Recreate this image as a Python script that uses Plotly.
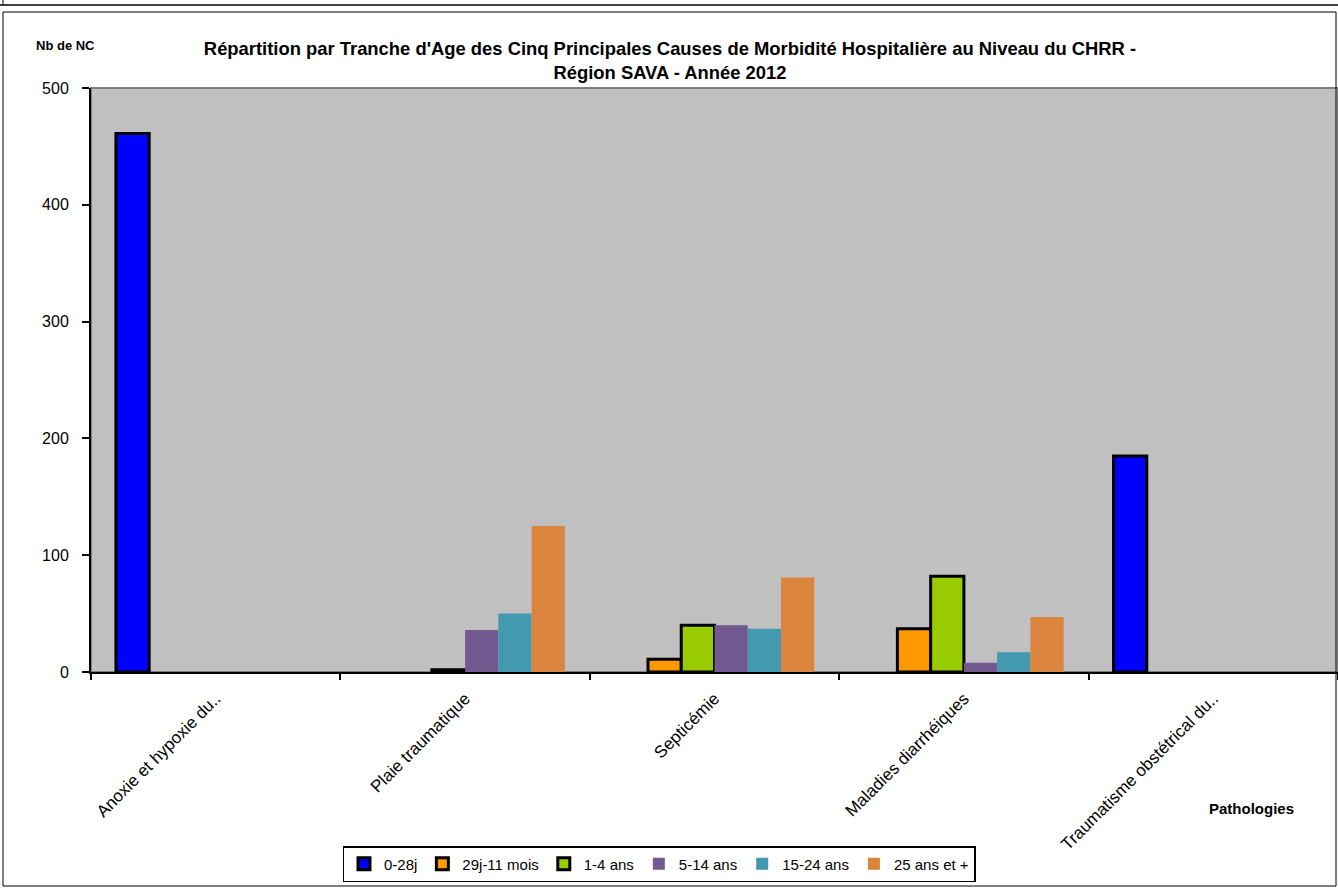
import plotly.graph_objects as go

categories = ["Anoxie et hypoxie du..", "Plaie traumatique", "Septicémie",
              "Maladies diarrhéiques", "Traumatisme obstétrical du.."]
series_names = ["0-28j", "29j-11 mois", "1-4 ans", "5-14 ans", "15-24 ans", "25 ans et +"]
v_0_28j = [461, None, None, None, 185]
v_29j_11m = [None, None, 11, 37, None]
v_1_4 = [None, 2, 40, 82, None]
v_5_14 = [None, 36, 40, 8, None]
v_15_24 = [None, 50, 37, 17, None]
v_25p = [None, 125, 81, 47, None]
y_ticks = [0, 100, 200, 300, 400, 500]

series_values = [v_0_28j, v_29j_11m, v_1_4, v_5_14, v_15_24, v_25p]
colors = ["#0000FF", "#FF9900", "#99CC00", "#72598F", "#4299B0", "#DB843D"]
borders = [3, 3, 3, 0, 0, 0]

FONT = "Arial, Liberation Sans, sans-serif"
W, H = 1338, 888
L, R, T, B = 91, 0, 88, 216
pw, ph = W - L - R, H - T - B

def px(x):
    return (x - L) / pw

def py(y):
    return (H - B - y) / ph

fig = go.Figure()
for name, vals, c, bw in zip(series_names, series_values, colors, borders):
    fig.add_trace(go.Bar(
        name=name, x=categories, y=vals,
        marker=dict(color=c, line=dict(color="black", width=bw)),
    ))

shapes = [
    # plot area frame (top / right)
    dict(type="rect", xref="paper", yref="paper", x0=0, x1=1, y0=0, y1=1,
         line=dict(color="#808080", width=2), layer="below"),
    # outer chart frame
    dict(type="rect", xref="paper", yref="paper", x0=px(3), x1=px(1336), y0=py(886), y1=py(12),
         line=dict(color="black", width=1)),
    # top frame remains
    dict(type="line", xref="paper", yref="paper", x0=px(0), x1=px(1338), y0=py(5), y1=py(5),
         line=dict(color="black", width=1.5)),
    dict(type="line", xref="paper", yref="paper", x0=px(3), x1=px(3), y0=py(0), y1=py(5),
         line=dict(color="black", width=1)),
]

fig.update_layout(
    width=W, height=H,
    margin=dict(l=L, r=R, t=T, b=B, autoexpand=False),
    paper_bgcolor="white", plot_bgcolor="#C0C0C0",
    barmode="group", bargap=0.2, bargroupgap=0,
    font=dict(family=FONT, size=15, color="black"),
    title=dict(
        text="<b>Répartition par Tranche d'Age des Cinq Principales Causes de Morbidité Hospitalière au Niveau du CHRR -<br>Région SAVA - Année 2012</b>",
        xref="container", yref="container",
        x=670 / W, xanchor="center", y=1 - 55 / H, yanchor="middle",
        font=dict(size=18.4, family=FONT),
    ),
    xaxis=dict(
        type="category", tickangle=-45, tickson="boundaries",
        ticks="outside", ticklen=6, tickcolor="black", tickwidth=1.5,
        showline=True, linecolor="black", linewidth=2,
        showgrid=False, tickfont=dict(size=17, family=FONT),
        ticklabelstandoff=8,
    ),
    yaxis=dict(
        range=[0, 500], tickvals=y_ticks, ticks="outside", ticklen=7,
        tickcolor="black", tickwidth=1.5, showline=True, linecolor="black", linewidth=2,
        showgrid=False, zeroline=False, tickfont=dict(size=16, family=FONT),
        ticklabelstandoff=10,
    ),
    legend=dict(
        orientation="h", x=px(659), xanchor="center", y=py(846), yanchor="top",
        bordercolor="black", borderwidth=1.5, bgcolor="white",
        font=dict(size=15, family=FONT), itemwidth=30, tracegroupgap=0,
    ),
    shapes=shapes,
    annotations=[
        dict(text="<b>Nb de NC</b>", xref="paper", yref="paper", x=px(65), y=py(45),
             xanchor="center", yanchor="middle", showarrow=False, font=dict(size=13, family=FONT)),
        dict(text="<b>Pathologies</b>", xref="paper", yref="paper", x=px(1251), y=py(808),
             xanchor="center", yanchor="middle", showarrow=False, font=dict(size=15, family=FONT)),
    ],
)

fig.write_html("out.html", config={"displayModeBar": False},
               post_script="document.body.style.margin='0';")
